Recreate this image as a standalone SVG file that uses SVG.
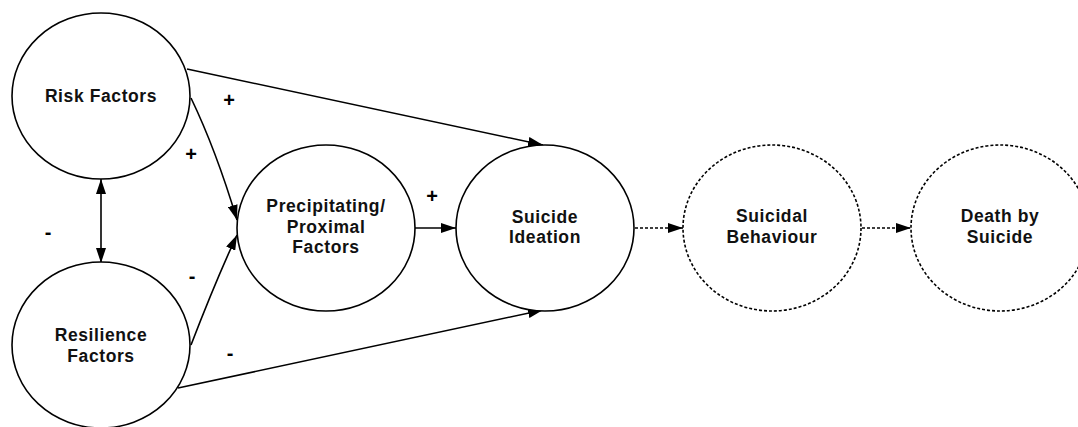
<svg xmlns="http://www.w3.org/2000/svg" width="1078" height="427" viewBox="0 0 1078 427">
<style>
.node{fill:#fff;stroke:#000;stroke-width:1.6}
.dot{stroke-dasharray:3,2}
.t{font-family:"Liberation Sans",Arial,sans-serif;font-weight:bold;font-size:17.5px;letter-spacing:0.6px;text-anchor:middle;fill:#111}
.lbl{font-family:"Liberation Sans",Arial,sans-serif;font-weight:bold;font-size:20px;text-anchor:middle;fill:#000}
.c{fill:none;stroke:#000;stroke-width:1.6}
</style>
<defs>
<marker id="ah" viewBox="0 0 15 10" refX="15" refY="5" markerWidth="15" markerHeight="10" markerUnits="userSpaceOnUse" orient="auto-start-reverse">
<path d="M0,0 L15,5 L0,10 z" fill="#000"/>
</marker>
</defs>
<rect width="1078" height="427" fill="#fff"/>
<g id="connectors">
<path class="c" d="M187,69 L543,145" marker-end="url(#ah)"/>
<path class="c" d="M178,388 L543,310" marker-end="url(#ah)"/>
<path class="c" d="M191,98 Q216,150 237,220" marker-end="url(#ah)"/>
<path class="c" d="M191,345 Q216,280 237,235" marker-end="url(#ah)"/>
<path class="c" d="M101,179 L101,263" marker-start="url(#ah)" marker-end="url(#ah)"/>
<path class="c" d="M415,228 L456,228" marker-end="url(#ah)"/>
<path class="c dot" d="M635,228 L683,228" marker-end="url(#ah)"/>
<path class="c dot" d="M862,228 L911,228" marker-end="url(#ah)"/>
<text class="lbl" x="229" y="107">+</text>
<text class="lbl" x="191" y="161">+</text>
<text class="lbl" x="48" y="239">-</text>
<text class="lbl" x="192" y="283">-</text>
<text class="lbl" x="230" y="360">-</text>
<text class="lbl" x="432" y="203">+</text>
</g>
<g id="risk">
<ellipse class="node" cx="101" cy="96" rx="89" ry="83"/>
<text class="t" x="101" y="102">Risk Factors</text>
</g>
<g id="resilience">
<ellipse class="node" cx="101" cy="345" rx="89" ry="83"/>
<text class="t" x="101" y="341">Resilience</text>
<text class="t" x="101" y="362">Factors</text>
</g>
<g id="precipitating">
<ellipse class="node" cx="326" cy="228" rx="89" ry="83"/>
<text class="t" x="326" y="212">Precipitating/</text>
<text class="t" x="326" y="233">Proximal</text>
<text class="t" x="326" y="253">Factors</text>
</g>
<g id="ideation">
<ellipse class="node" cx="545" cy="228" rx="89" ry="83"/>
<text class="t" x="545" y="223">Suicide</text>
<text class="t" x="545" y="243">Ideation</text>
</g>
<g id="behaviour">
<ellipse class="node dot" cx="772" cy="228" rx="89" ry="83"/>
<text class="t" x="772" y="222">Suicidal</text>
<text class="t" x="772" y="243">Behaviour</text>
</g>
<g id="death">
<ellipse class="node dot" cx="1000" cy="228" rx="89" ry="83"/>
<text class="t" x="1000" y="222">Death by</text>
<text class="t" x="1000" y="243">Suicide</text>
</g>
</svg>
